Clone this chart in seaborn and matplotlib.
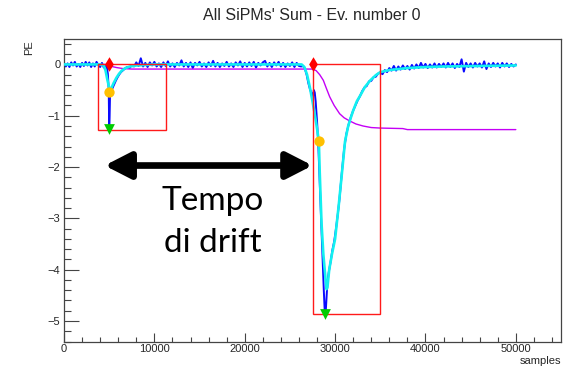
import numpy as np
import pandas as pd
import matplotlib
matplotlib.use("Agg")
import matplotlib.pyplot as plt
from matplotlib.patches import Rectangle
from matplotlib.ticker import MultipleLocator
import seaborn as sns

# ---------------- data ----------------
title = "All SiPMs' Sum - Ev. number 0"
x_label = "samples"
y_label = "PE"
note_lines = ["Tempo", "di drift"]

# blue raw waveform, baseline before first pulse (x = 0..4600 step 200)
wave_a_x = list(range(0, 4601, 200))
wave_a_y = [0.03, -0.04, 0.02, -0.05, 0.04, -0.02, 0.05, -0.04, 0.01, -0.05,
            0.03, -0.03, 0.05, -0.02, 0.04, -0.05, 0.02, -0.04, 0.05, -0.01,
            -0.05, 0.03, -0.06, -0.03]
# first pulse
wave_p1_x = [4750, 4850, 4950, 5000, 5050, 5100, 5200, 5350, 5500, 5700, 5900,
             6100, 6300, 6500, 6750, 7000, 7250, 7500, 7750]
wave_p1_y = [-0.06, -0.18, -0.5, -1.24, -1.0, -0.55, -0.52, -0.47, -0.41, -0.33,
             -0.26, -0.2, -0.15, -0.12, -0.08, -0.05, -0.07, -0.01, -0.04]
# baseline between pulses (x = 8000..26250 step 250)
wave_b_x = list(range(8000, 26251, 250))
wave_b_y = [0.04, -0.03, 0.12, -0.04, 0.03, -0.05, 0.04, -0.02, 0.05, -0.04,
            0.02, -0.05, 0.04, -0.03, 0.06, -0.04, 0.02, -0.05, 0.03, -0.02,
            0.08, -0.04, 0.03, -0.05, 0.04, -0.07, 0.03, -0.02, 0.05, -0.04,
            0.02, -0.05, 0.04, -0.03, 0.07, -0.04, 0.03, -0.05, 0.02, -0.03,
            0.05, -0.04, 0.02, -0.05, 0.04, -0.02, 0.06, -0.05, 0.03, -0.04,
            0.04, -0.03, 0.05, -0.06, 0.03, -0.02, 0.04, 0.07, -0.04, 0.03,
            -0.05, 0.04, -0.02, 0.05, -0.04, 0.03, -0.05, 0.02, -0.03, 0.04,
            -0.05, 0.03, -0.03, -0.04]
# second pulse
wave_p2_x = [26450, 26650, 26850, 27050, 27250, 27400, 27550, 27650, 27750, 27850,
             28000, 28150, 28300, 28450, 28600, 28750, 28850, 28950, 29050, 29150,
             29300, 29500, 29700, 29900, 30100, 30300, 30500, 30750, 31000, 31250,
             31500, 31750, 32000, 32250, 32500, 32750, 33000, 33250, 33500, 33750,
             34000, 34250, 34500, 34750, 35000, 35250, 35500, 35750, 36000, 36250]
wave_p2_y = [-0.03, -0.08, -0.2, -0.37, -0.5, -0.56, -0.62, -0.5, -0.55, -0.72,
             -1.1, -1.6, -2.3, -3.0, -3.7, -4.4, -4.8, -4.86, -4.55, -4.25,
             -4.05, -3.85, -3.62, -3.45, -3.2, -2.92, -2.6, -2.1, -1.65, -1.35,
             -1.17, -1.02, -0.9, -0.8, -0.7, -0.62, -0.52, -0.45, -0.42, -0.33,
             -0.32, -0.25, -0.24, -0.18, -0.16, -0.19, -0.11, -0.15, -0.07, -0.12]
# tail baseline (x = 36500..50000 step 250)
wave_c_x = list(range(36500, 50001, 250))
wave_c_y = [-0.03, -0.12, -0.04, -0.1, -0.02, -0.09, -0.03, -0.1, -0.01, -0.08,
            0.0, -0.07, 0.03, -0.06, 0.01, -0.07, 0.0, -0.06, 0.02, -0.06,
            0.01, -0.05, 0.02, -0.06, 0.03, -0.05, 0.02, -0.07, 0.01, -0.05,
            0.10, -0.14, 0.03, -0.05, 0.02, -0.06, 0.03, -0.04, 0.02, -0.06,
            0.06, -0.09, 0.02, -0.05, 0.03, -0.04, 0.02, -0.06, 0.03, -0.04,
            0.02, -0.05, 0.01, -0.04, 0.0]

# cyan fitted/smoothed waveform
fit_x = [0, 4000, 4400, 4600, 4800, 5000, 5100, 5250, 5500, 5800, 6100, 6400,
         6800, 7300, 8000, 9000, 10000, 26300, 26600, 26900, 27200, 27500,
         27800, 28000, 28200, 28300, 28500, 28700, 28900, 29050, 29150, 29350,
         29650, 30000, 30400, 30750, 31100, 31450, 31700, 32000, 32400, 32800,
         33300, 33900, 34500, 35000, 36000, 37000, 38000, 40000, 42000, 46000,
         50000]
fit_y = [0.0, 0.0, -0.02, -0.12, -0.3, -0.45, -0.5, -0.46, -0.36, -0.26, -0.18,
         -0.12, -0.07, -0.04, -0.02, -0.01, 0.0, 0.0, -0.05, -0.2, -0.44, -0.72,
         -1.02, -1.25, -1.49, -2.1, -3.1, -3.7, -4.1, -4.38, -4.35, -4.0,
         -3.7, -3.4, -2.75, -2.13, -1.5, -1.2, -1.06, -0.9, -0.72, -0.6,
         -0.44, -0.31, -0.21, -0.15, -0.11, -0.09, -0.07, -0.05, -0.04, -0.03,
         -0.02]

# magenta cumulative (integral) curve
integ_x = [0, 4500, 4900, 5300, 5800, 6500, 7500, 27500, 27900, 28300, 28700,
           29000, 29400, 29900, 30500, 31000, 31600, 32300, 33100, 34000,
           35000, 37500, 38000, 50000]
integ_y = [0.0, 0.0, -0.01, -0.04, -0.06, -0.08, -0.09, -0.09, -0.12, -0.2,
           -0.31, -0.45, -0.63, -0.8, -0.96, -1.04, -1.1, -1.16, -1.2, -1.23,
           -1.24, -1.25, -1.27, -1.27]

# red integration windows
box_start = [3800, 27500]
box_end = [11300, 35000]
box_top = [0.0, 0.0]
box_depth = [-1.27, -4.87]

# markers: start time, half-height point, peak
t0_x = [5000, 27500]
t0_y = [0.0, 0.0]
half_x = [5000, 28200]
half_y = [-0.53, -1.49]
peak_x = [5000, 28900]
peak_y = [-1.26, -4.86]

# ---------------- figure ----------------
sns.set_theme(style="white")
plt.rcParams["font.family"] = ["Liberation Sans", "DejaVu Sans"]

W, H = 572, 367
fig = plt.figure(figsize=(W / 100, H / 100), dpi=100)
ax = fig.add_axes([64 / W, 1 - 341.5 / H, (561 - 64) / W, (341.5 - 39.3) / H])

wave_x = wave_a_x + wave_p1_x + wave_b_x + wave_p2_x + wave_c_x
wave_y = wave_a_y + wave_p1_y + wave_b_y + wave_p2_y + wave_c_y
wave = pd.DataFrame({"x": wave_x, "y": wave_y})
fit = pd.DataFrame({"x": fit_x, "y": fit_y})
integ = pd.DataFrame({"x": integ_x, "y": integ_y})

sns.lineplot(data=wave, x="x", y="y", ax=ax, color="#0a0aff", lw=1.4,
             estimator=None, sort=False, zorder=2)
sns.lineplot(data=integ, x="x", y="y", ax=ax, color="#c400f5", lw=1.0,
             estimator=None, sort=False, zorder=3)
sns.lineplot(data=fit, x="x", y="y", ax=ax, color="#12f0f0", lw=1.9,
             estimator=None, sort=False, zorder=4)

for xs, xe, yt, yb in zip(box_start, box_end, box_top, box_depth):
    ax.add_patch(Rectangle((xs, yb), xe - xs, yt - yb, fill=False,
                           edgecolor="#ff1a1a", lw=1.0, zorder=5))

sns.scatterplot(x=t0_x, y=t0_y, ax=ax, marker="d", color="#ff0000", s=55,
                linewidth=0, zorder=6)
sns.scatterplot(x=half_x, y=half_y, ax=ax, marker="o", color="#ffc000", s=55,
                linewidth=0, zorder=6)
sns.scatterplot(x=peak_x, y=peak_y, ax=ax, marker="v", color="#00cc00", s=60,
                linewidth=0, zorder=6)

# drift-time arrow between the two start markers
ax.annotate("", xy=(t0_x[1], -1.97), xytext=(t0_x[0] - 500, -1.97),
            arrowprops=dict(arrowstyle="<|-|>,head_length=0.78,head_width=0.4",
                            color="black", lw=4.8, shrinkA=0, shrinkB=0,
                            mutation_scale=20),
            zorder=7)
ax.text(16500, -2.84, note_lines[0], ha="center", va="baseline",
        fontsize=24, family=["Lato", "DejaVu Sans"], color="black", zorder=7)
ax.text(16500, -3.65, note_lines[1], ha="center", va="baseline",
        fontsize=24, family=["Lato", "DejaVu Sans"], color="black", zorder=7)

ax.set_xlim(0, 55000)
ax.set_ylim(-5.40, 0.49)
ax.xaxis.set_major_locator(MultipleLocator(10000))
ax.xaxis.set_minor_locator(MultipleLocator(2000))
ax.yaxis.set_major_locator(MultipleLocator(1))
ax.yaxis.set_minor_locator(MultipleLocator(0.2))
ax.tick_params(axis="x", which="major", direction="in", length=6.5, width=0.8,
               color="#444444", labelsize=8, pad=1.5, bottom=True, top=False)
ax.tick_params(axis="x", which="minor", direction="in", length=3.3, width=0.8,
               color="#444444", bottom=True, top=False)
ax.tick_params(axis="y", which="major", direction="in", length=10.5, width=0.8,
               color="#444444", labelsize=8, pad=2.5, left=True, right=False)
ax.tick_params(axis="y", which="minor", direction="in", length=5.3, width=0.8,
               color="#444444", left=True, right=False)
for sp in ax.spines.values():
    sp.set_color("#444444")
    sp.set_linewidth(0.9)
ax.set_xlabel("")
ax.set_ylabel("")

fig.text(312 / W, 1 - 15.5 / H, title, ha="center", va="center", fontsize=11.5)
fig.text(561 / W, 1 - 361 / H, x_label, ha="right", va="center", fontsize=8)
fig.text(29.5 / W, 1 - 40.5 / H, y_label, ha="center", va="top",
         rotation=90, fontsize=8)

fig.savefig("out.png", dpi=100)
